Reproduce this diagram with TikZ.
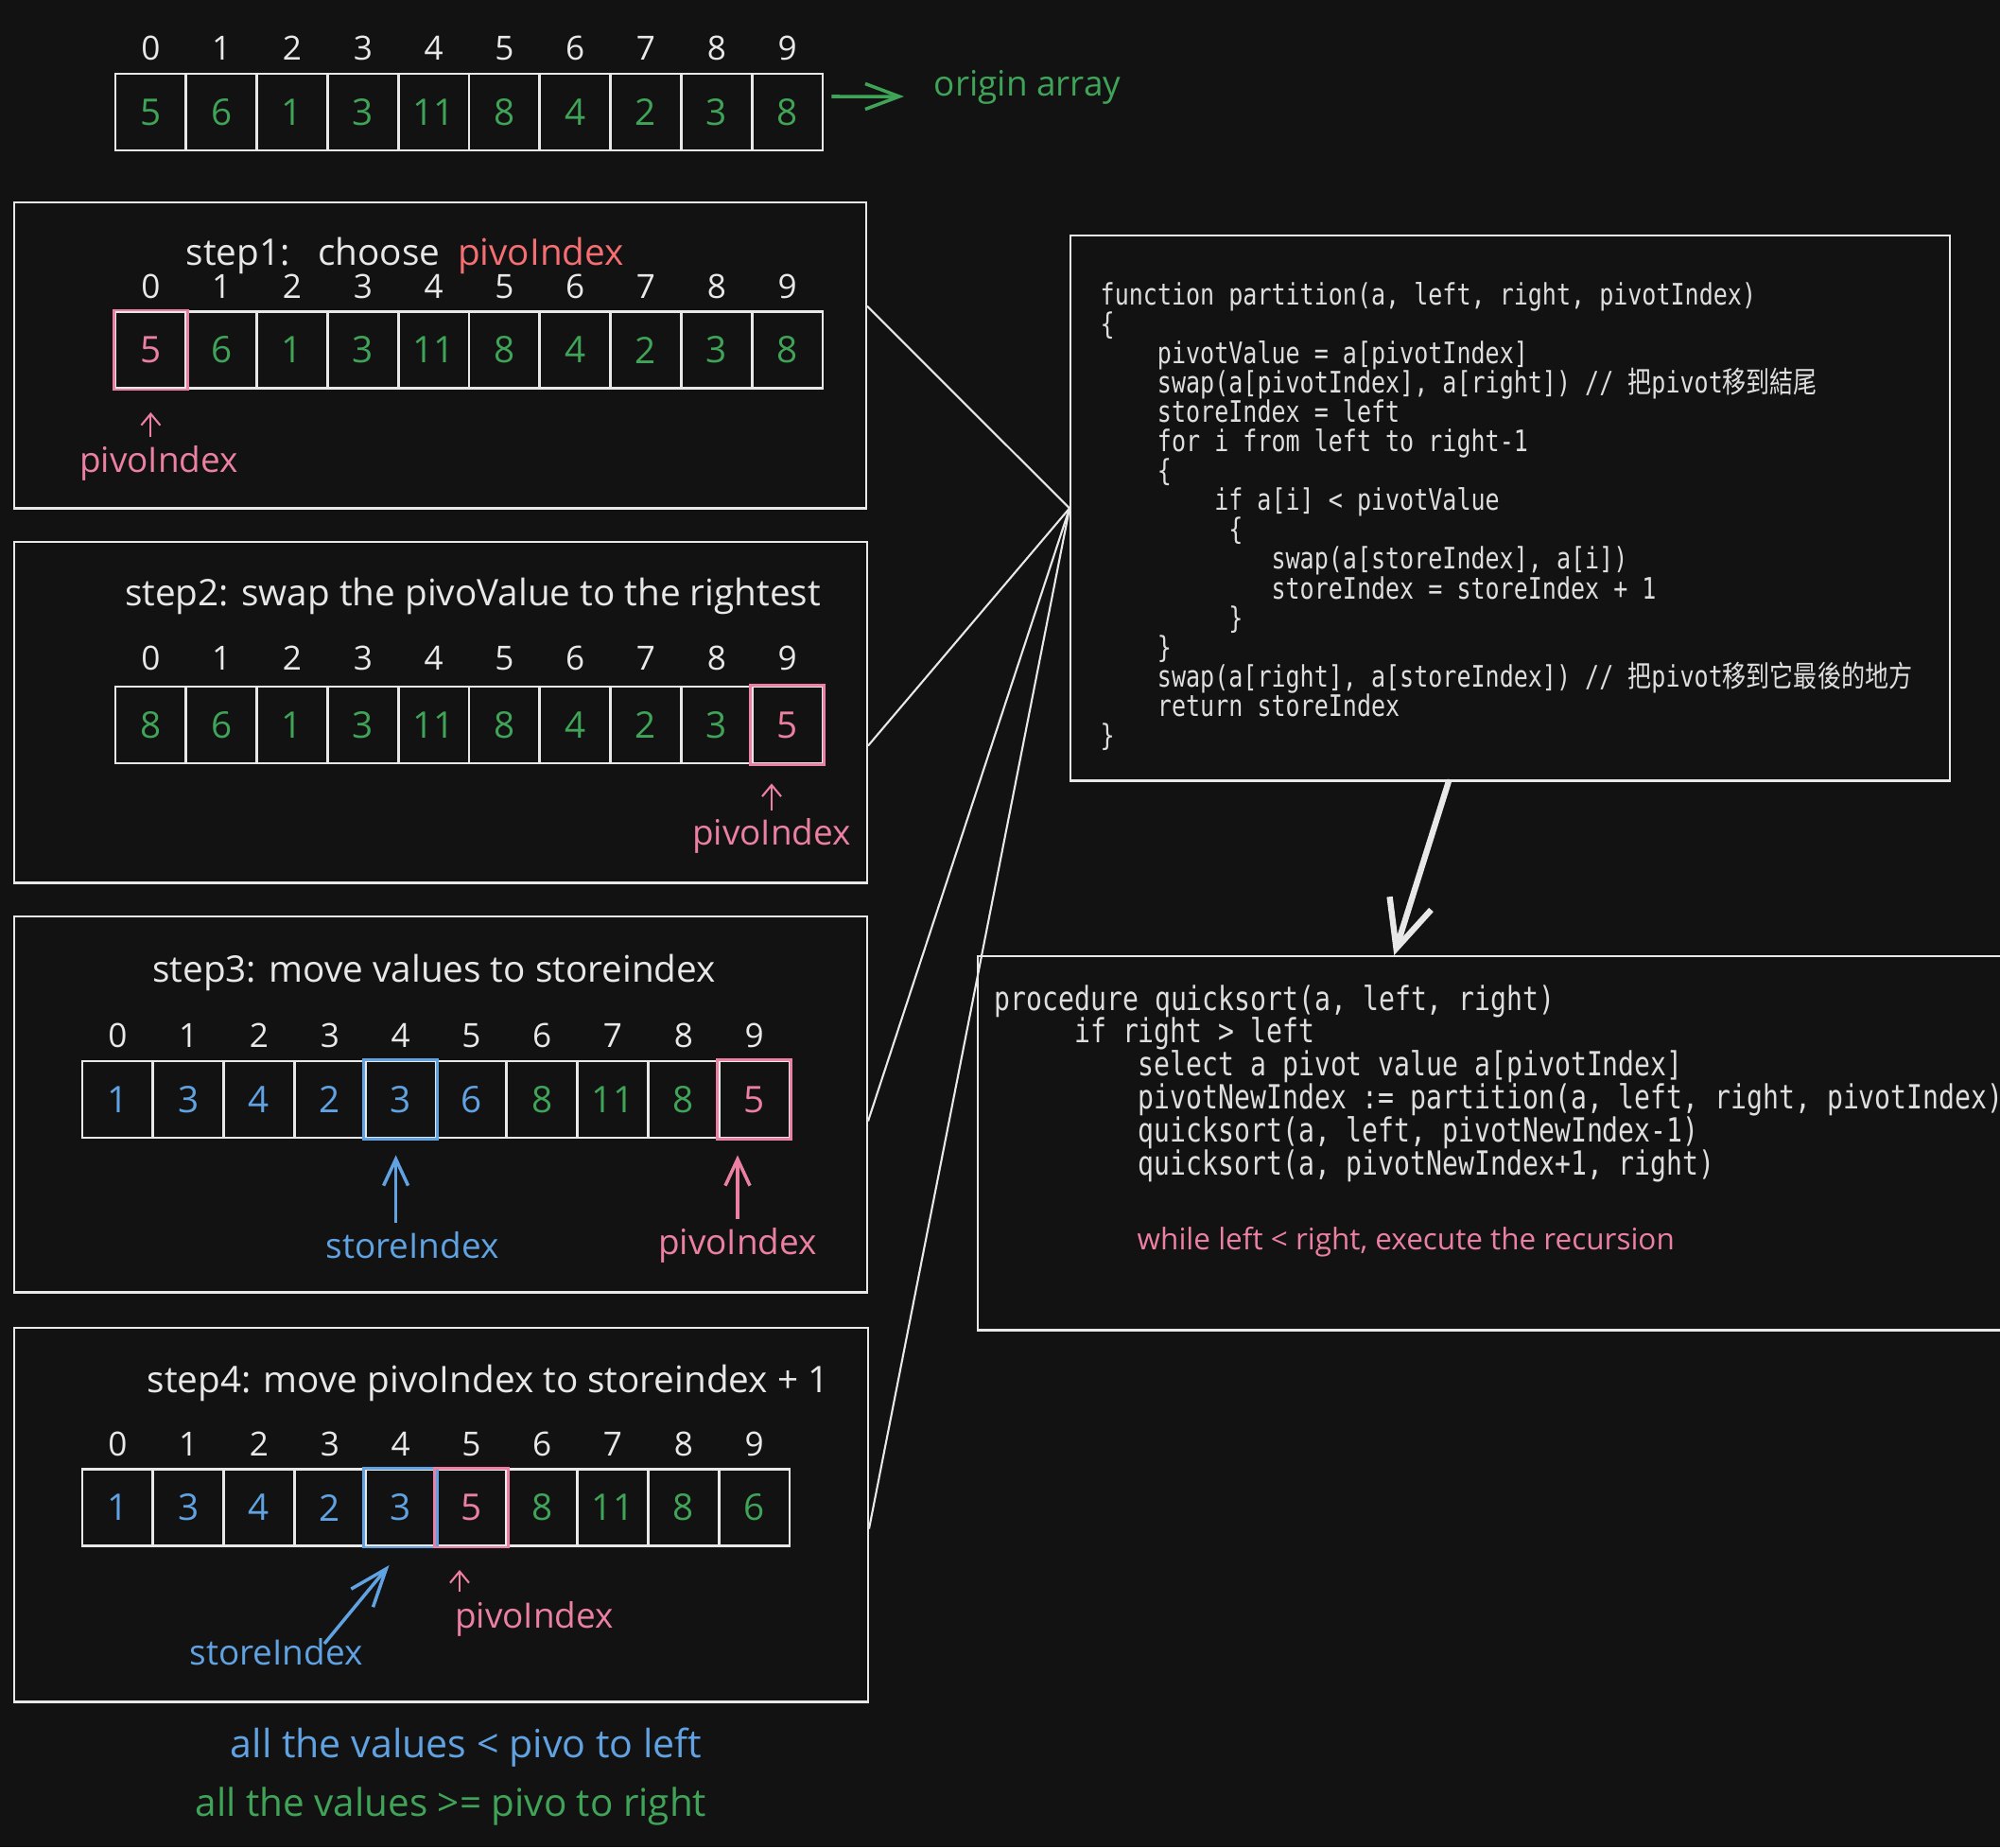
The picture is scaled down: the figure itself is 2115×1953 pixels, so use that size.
\documentclass[tikz,border=0pt]{standalone}
\usepackage{fontspec}
\setmainfont{Open Sans}
\newfontfamily\codefont{DejaVu Sans Mono}[FakeStretch=0.8]
\newfontfamily\cjkfont{Noto Sans CJK TC}[FakeStretch=0.8]
\usepackage{tikz}
\usetikzlibrary{arrows.meta,positioning,calc}
\definecolor{bg}{RGB}{18,18,18}
\definecolor{chalk}{RGB}{232,232,232}
\definecolor{codegray}{RGB}{222,222,222}
\definecolor{leaf}{RGB}{64,164,88}
\definecolor{rose}{RGB}{236,128,162}
\definecolor{coral}{RGB}{244,110,114}
\definecolor{sky}{RGB}{96,162,226}

\begin{document}
\begin{tikzpicture}[
    x=0.01cm, y=-0.01cm,
    panel/.style={draw=chalk, line width=0.7pt, inner sep=0, anchor=north west},
    cell/.style={draw=chalk, line width=0.8pt, minimum width=0.748cm, minimum height=0.81cm,
                 inner sep=0, font=\fontsize{11}{13}\selectfont},
    idx/.style={text=chalk, inner sep=0, font=\fontsize{10}{12}\selectfont},
    title/.style={text=chalk, inner sep=0, font=\fontsize{11}{13}\selectfont},
    tag/.style={inner sep=0, font=\fontsize{10.5}{12}\selectfont},
    code/.style={text=codegray, inner sep=0, anchor=base west, font=\codefont\fontsize{8.9}{10}\selectfont},
    bigcode/.style={code, font=\codefont\fontsize{10}{11}\selectfont},
    link/.style={draw=chalk, line width=0.6pt},
    thinarr/.style={-{Straight Barb[length=1.2mm,width=2mm]}, line width=0.6pt},
    fatarr/.style={-{Straight Barb[length=2.8mm,width=2.6mm]}, line width=1pt}
]
\useasboundingbox (0,0) rectangle (2115,1953);
\fill[bg] (0,0) rectangle (2115,1953);

% origin array
\foreach \v [count=\i from 0] in {5,6,1,3,11,8,4,2,3,8} {
  \node[cell, text=leaf] (r0-\i) at (159.4+74.8*\i,118.5) {\v};
  \node[idx, above=0.12cm of r0-\i] (r0-i\i) {\i};
}
\node[tag, text=leaf, anchor=west] (orig) at (987,92) {origin array};
\draw[-{Straight Barb[length=3.6mm,width=2.7mm]}, leaf, line width=1pt]
  ([xshift=.08cm,yshift=.165cm]r0-9.east) -- ([xshift=-.31cm,yshift=-.1cm]orig.west);

% panels
\node[panel, minimum width=9cm, minimum height=3.23cm] (s1) at (14,213) {};
\node[panel, minimum width=9.01cm, minimum height=3.6cm] (s2) at (14,572) {};
\node[panel, minimum width=9.01cm, minimum height=3.97cm] (s3) at (14,968) {};
\node[panel, minimum width=9.02cm, minimum height=3.95cm] (s4) at (14,1403) {};
\node[panel, minimum width=9.29cm, minimum height=5.76cm] (part) at (1131,248) {};
\node[panel, minimum width=11.07cm, minimum height=3.95cm] (quick) at (1033,1010) {};

% step1
\node[title, anchor=west] (t1) at (196,270) {step1:\hspace{0.77em}choose\hspace{0.48em}\textcolor{coral}{pivoIndex}};
\foreach \v/\c [count=\i from 0] in {5/rose,6/leaf,1/leaf,3/leaf,11/leaf,8/leaf,4/leaf,2/leaf,3/leaf,8/leaf} {
  \node[cell, text=\c] (r1-\i) at (159.4+74.8*\i,370) {\v};
  \node[idx, above=0.12cm of r1-\i] (r1-i\i) {\i};
}
\draw[rose, line width=0.8pt] (r1-0.north west) rectangle (r1-0.south east);
\node[tag, text=rose] (pl1) at (168,490) {pivoIndex};
\draw[thinarr, rose, shorten <=.09cm, shorten >=.24cm] (pl1.north -| r1-0.south) -- (r1-0.south);

% step2
\node[title] (t2) at (500,630) {step2: swap the pivoValue to the rightest};
\foreach \v/\c [count=\i from 0] in {8/leaf,6/leaf,1/leaf,3/leaf,11/leaf,8/leaf,4/leaf,2/leaf,3/leaf,5/rose} {
  \node[cell, text=\c] (r2-\i) at (159.4+74.8*\i,766.5) {\v};
  \node[idx, above=0.15cm of r2-\i] (r2-i\i) {\i};
}
\draw[rose, line width=0.8pt] (r2-9.north west) rectangle (r2-9.south east);
\node[tag, text=rose] (pl2) at (816,884) {pivoIndex};
\draw[thinarr, rose, shorten <=.08cm, shorten >=.2cm] (pl2.north) -- (pl2.north |- r2-9.south);

% step3
\node[title] (t3) at (459,1028) {step3: move values to storeindex};
\foreach \v/\c [count=\i from 0] in {1/sky,3/sky,4/sky,2/sky,3/sky,6/sky,8/leaf,11/leaf,8/leaf,5/rose} {
  \node[cell, text=\c] (r3-\i) at (124.4+74.8*\i,1162.5) {\v};
  \node[idx, above=0.12cm of r3-\i] (r3-i\i) {\i};
}
\draw[sky, line width=0.8pt] (r3-4.north west) rectangle (r3-4.south east);
\draw[rose, line width=0.8pt] (r3-9.north west) rectangle (r3-9.south east);
\node[tag, text=sky] (sl3) at (436,1317) {storeIndex};
\node[tag, text=rose] (pl3) at (780,1317) {pivoIndex};
\draw[fatarr, sky, shorten <=.09cm, shorten >=.17cm] ([xshift=-.05cm]sl3.north -| r3-4.south) -- ([xshift=-.05cm]r3-4.south);
\draw[fatarr, rose, shorten <=.09cm, shorten >=.17cm] (pl3.north) -- (pl3.north |- r3-9.south);

% step4
\node[title] (t4) at (516,1462) {step4: move pivoIndex to storeindex + 1};
\foreach \v/\c [count=\i from 0] in {1/sky,3/sky,4/sky,2/sky,3/sky,5/rose,8/leaf,11/leaf,8/leaf,6/leaf} {
  \node[cell, text=\c] (r4-\i) at (124.4+74.8*\i,1594) {\v};
  \node[idx, above=0.12cm of r4-\i] (r4-i\i) {\i};
}
\draw[sky, line width=0.8pt] (r4-4.north west) rectangle (r4-4.south east);
\draw[rose, line width=0.8pt] (r4-5.north west) rectangle (r4-5.south east);
\node[tag, text=sky] (sl4) at (292,1747) {storeIndex};
\node[tag, text=rose] (pl4) at (565,1712) {pivoIndex};
\coordinate (st4) at (343,1738);
\coordinate (pv4) at (486,1683);
\draw[-{Straight Barb[length=4mm,width=3mm]}, sky, line width=1pt] (st4) -- ([xshift=-.12cm,yshift=-.19cm]r4-4.south);
\draw[thinarr, rose, shorten >=.24cm] (pv4) -- (pv4 |- r4-5.south);

\node[tag, text=sky, font=\fontsize{11.7}{13}\selectfont] (lt) at (493,1848) {all the values < pivo to left};
\node[tag, text=leaf, font=\fontsize{11.5}{13}\selectfont] (ge) at (477,1910) {all the values >= pivo to right};

% partition code, one node per line (indent in characters)
\foreach \n/\t [count=\k from 0] in {
  0/{function partition(a, left, right, pivotIndex)},
  0/{\{},
  4/{pivotValue = a[pivotIndex]},
  4/{swap(a[pivotIndex], a[right]) // {\cjkfont 把}pivot{\cjkfont 移到結尾}},
  4/{storeIndex = left},
  4/{for i from left to right-1},
  4/{\{},
  8/{if a[i] < pivotValue},
  9/{\{},
  12/{swap(a[storeIndex], a[i])},
  12/{storeIndex = storeIndex + 1},
  9/{\}},
  4/{\}},
  4/{swap(a[right], a[storeIndex]) // {\cjkfont 把}pivot{\cjkfont 移到它最後的地方}},
  4/{return storeIndex},
  0/{\}}} {
  \node[code] (pc\k) at (1163+15.07*\n,322+31.1*\k) {\t};
}

% quicksort code
\foreach \n/\t [count=\k from 0] in {
  0/{procedure quicksort(a, left, right)},
  5/{if right > left},
  9/{select a pivot value a[pivotIndex]},
  9/{pivotNewIndex := partition(a, left, right, pivotIndex)},
  9/{quicksort(a, left, pivotNewIndex-1)},
  9/{quicksort(a, pivotNewIndex+1, right)}} {
  \node[bigcode] (qc\k) at (1051+16.9*\n,1068+34.8*\k) {\t};
}
\node[tag, text=rose, anchor=west, font=\fontsize{8.95}{10}\selectfont] (note) at (1202,1313) {while left < right, execute the recursion};

% links
\draw[link] ($(s1.north east)!.34!(s1.south east)$) -- (part.west);
\draw[link] ($(s2.north east)!.597!(s2.south east)$) -- (part.west);
\draw[link] ($(s3.north east)!.544!(s3.south east)$) -- (part.west);
\draw[link] ($(s4.north east)!.537!(s4.south east)$) -- (part.west);
\draw[-{Straight Barb[length=5mm,width=4.6mm]}, chalk, line width=1.8pt, line cap=round]
  ($(part.south west)!.43!(part.south east)$) -- ($(quick.north west)!.3975!(quick.north east)$);
\end{tikzpicture}
\end{document}
